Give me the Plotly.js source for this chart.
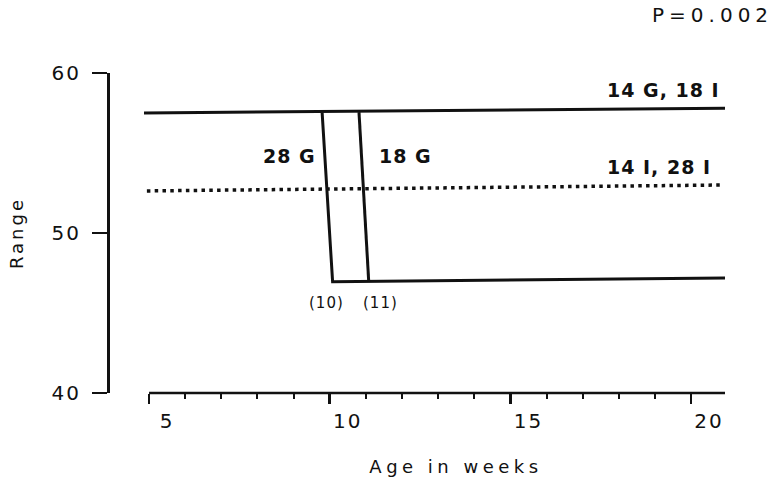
<!DOCTYPE html>
<html>
<head>
<meta charset="utf-8">
<script src="https://cdn.plot.ly/plotly-3.0.1.min.js"></script>
<style>
  html, body { margin: 0; padding: 0; background: #fff; }
  #chart { width: 777px; height: 478px; }
  .xtick text, .ytick text { letter-spacing: 2px; }
  .xtitle { letter-spacing: 4.5px; }
  .ytitle { letter-spacing: 3px; }
  .annotation-text { letter-spacing: 1px; }
  .annotation[data-index="0"] .annotation-text { letter-spacing: 5px; }
</style>
</head>
<body>
<div id="chart"></div>
<script>
// ---- data ----
const weeksTop = [4.86, 20.94];          // 14 G, 18 I (solid, upper)
const rangeTop = [57.5, 57.8];
const weeks28G = [9.79, 10.08, 20.94];   // 28 G drop, then lower plateau
const range28G = [57.52, 46.95, 47.19];
const weeks18G = [10.81, 11.08];         // 18 G drop
const range18G = [57.55, 46.95];
const weeksDot = [4.94, 20.89];          // 14 I, 28 I (dotted)
const rangeDot = [52.63, 53.0];

const xTickVals = [5, 10, 15, 20];
const xTickText = ['5', '10', '15', '20'];
const xMinorVals = [6, 7, 8, 9, 11, 12, 13, 14, 16, 17, 18, 19];
const yTickVals = [40, 50, 60];
const yTickText = ['40', '50', '60'];

const ink = '#111';
const FONT = 'DejaVu Sans, Liberation Sans, sans-serif';

const traces = [
  { x: weeksTop, y: rangeTop, mode: 'lines', line: { color: ink, width: 3 }, name: '14 G, 18 I' },
  { x: weeks28G, y: range28G, mode: 'lines', line: { color: ink, width: 3 }, name: '28 G' },
  { x: weeks18G, y: range18G, mode: 'lines', line: { color: ink, width: 3 }, name: '18 G' },
  { x: weeksDot, y: rangeDot, mode: 'lines', line: { color: ink, width: 3.5, dash: '3.5px,4.3px' }, name: '14 I, 28 I' }
];

const bold = { family: FONT, size: 19, color: ink, weight: 'bold' };
const reg = { family: FONT, size: 15, color: ink };

const layout = {
  width: 777, height: 478,
  margin: { l: 108, r: 9, t: 73, b: 85 },
  paper_bgcolor: '#fff', plot_bgcolor: '#fff',
  showlegend: false,
  font: { family: FONT, color: ink },
  xaxis: {
    domain: [36 / 660, 1],
    range: [4.86, 22.13],
    showline: false, showgrid: false, zeroline: false,
    tickmode: 'array', tickvals: xTickVals, ticktext: xTickText,
    ticks: 'outside', ticklen: 10, tickwidth: 2.5, tickcolor: ink,
    ticklabelshift: 18,
    tickfont: { family: FONT, size: 20, color: ink },
    minor: { tickmode: 'array', tickvals: xMinorVals, ticks: 'outside', ticklen: 5, tickwidth: 2, tickcolor: ink },
    title: { text: 'Age in weeks', font: { family: FONT, size: 18, color: ink }, standoff: 28 }
  },
  yaxis: {
    anchor: 'free', position: 0,
    range: [40, 60],
    showline: true, linewidth: 2.5, linecolor: ink,
    showgrid: false, zeroline: false,
    tickmode: 'array', tickvals: yTickVals, ticktext: yTickText,
    ticks: 'outside', ticklen: 15, tickwidth: 2.5, tickcolor: ink,
    ticklabelstandoff: 7,
    tickfont: { family: FONT, size: 20, color: ink },
    title: { text: 'Range', font: { family: FONT, size: 18, color: ink }, standoff: 22 }
  },
  shapes: [
    { type: 'line', xref: 'x', yref: 'paper', x0: 5, x1: 20.94, y0: 0, y1: 0,
      line: { color: ink, width: 2.5 } }
  ],
  annotations: [
    { text: 'P=0.002', xref: 'paper', yref: 'paper', x: 0.843, y: 1.18, xanchor: 'left', yanchor: 'middle',
      showarrow: false, font: { family: FONT, size: 20, color: ink } },
    { text: '14 G, 18 I', x: 17.62, y: 58.94, xanchor: 'left', yanchor: 'middle', showarrow: false, font: bold },
    { text: '14 I, 28 I', x: 17.62, y: 54.13, xanchor: 'left', yanchor: 'middle', showarrow: false, font: bold },
    { text: '28 G', x: 8.09, y: 54.81, xanchor: 'left', yanchor: 'middle', showarrow: false, font: bold },
    { text: '18 G', x: 11.31, y: 54.81, xanchor: 'left', yanchor: 'middle', showarrow: false, font: bold },
    { text: '(10)', x: 9.90, y: 45.63, xanchor: 'center', yanchor: 'middle', showarrow: false, font: reg },
    { text: '(11)', x: 11.41, y: 45.63, xanchor: 'center', yanchor: 'middle', showarrow: false, font: reg }
  ]
};

Plotly.newPlot('chart', traces, layout, { staticPlot: true, displayModeBar: false });
</script>
</body>
</html>
